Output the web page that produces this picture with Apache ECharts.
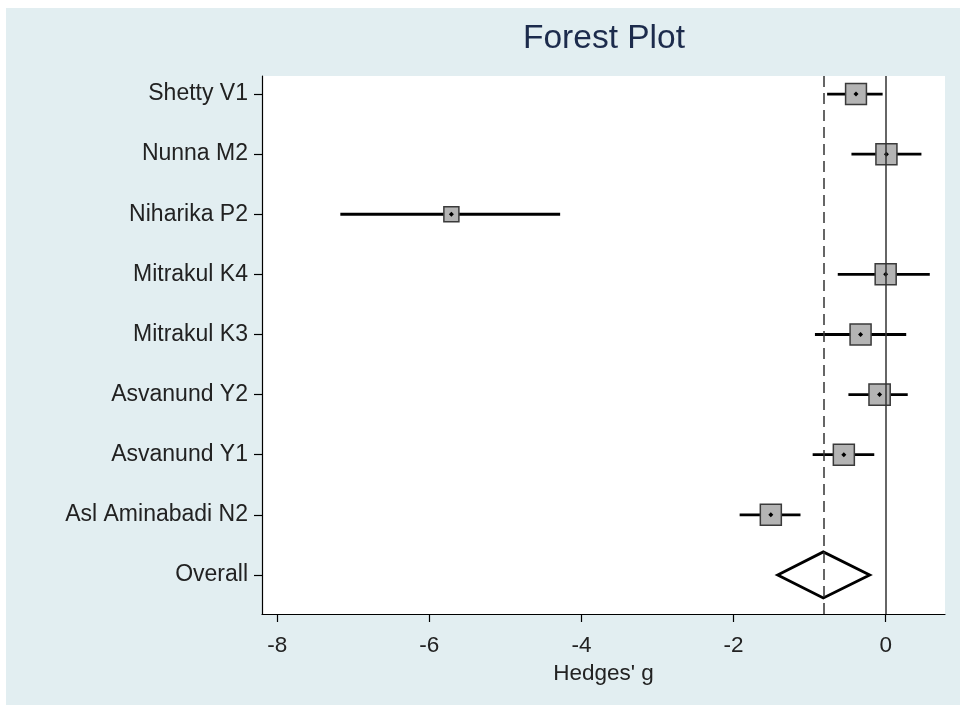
<!DOCTYPE html>
<html><head><meta charset="utf-8">
<script src="https://cdn.jsdelivr.net/npm/echarts@6/dist/echarts.min.js"></script>
<style>html,body{margin:0;padding:0;background:#fff}#c{width:960px;height:705px}</style>
</head><body><div id="c"></div>
<script>
// ---- data ----
const studies = ['Shetty V1','Nunna M2','Niharika P2','Mitrakul K4','Mitrakul K3','Asvanund Y2','Asvanund Y1','Asl Aminabadi N2'];
const effect  = [-0.39, 0.01, -5.71, 0.00, -0.33, -0.08, -0.55, -1.51];
const lower   = [-0.77, -0.45, -7.17, -0.63, -0.93, -0.49, -0.96, -1.92];
const upper   = [-0.04, 0.47, -4.28, 0.58, 0.27, 0.29, -0.15, -1.12];
const weights = [13.1, 13.3, 6.8, 13.3, 13.3, 13.6, 13.3, 13.3];
const overallLabel = 'Overall';
const overallEffect = -0.82;
const overallLower = -1.42;
const overallUpper = -0.21;
const xTicks = [-8, -6, -4, -2, 0];
const rowLabels = studies.concat([overallLabel]);
const nRows = rowLabels.length;
const rowValues = rowLabels.map((_, i) => nRows - i);

const FONT = "'Liberation Sans', Arial, sans-serif";
const boxScale = 5.76;

const studyData = studies.map((s, i) => [effect[i], lower[i], upper[i], nRows - i, weights[i]]);
const overallData = [[overallEffect, overallLower, overallUpper, 1]];

const chart = echarts.init(document.getElementById('c'), null, {renderer: 'canvas'});
chart.setOption({
  backgroundColor: '#e2eef1',
  animation: false,
  title: {
    text: 'Forest Plot', left: 599, top: 17, textAlign: 'center',
    textStyle: {fontFamily: FONT, fontSize: 33.5, fontWeight: 'normal', color: '#1c2b4c'}
  },
  graphic: [
    {type: 'rect', shape: {x: 0, y: 0, width: 960, height: 8}, style: {fill: '#fff'}},
    {type: 'rect', shape: {x: 0, y: 0, width: 6, height: 705}, style: {fill: '#fff'}}
  ],
  grid: {left: 262, right: 15, top: 76, bottom: 91, show: true, backgroundColor: '#fff', borderWidth: 0},
  xAxis: {
    type: 'value', min: -8.2, max: 0.78,
    axisLine: {show: true, onZero: false, lineStyle: {color: '#000', width: 1.2}},
    axisTick: {show: true, customValues: xTicks, length: 8, lineStyle: {color: '#000', width: 1.2}},
    axisLabel: {customValues: xTicks, fontFamily: FONT, fontSize: 22.5, color: '#222', margin: 20},
    splitLine: {show: false},
    name: "Hedges' g", nameLocation: 'middle', nameGap: 42,
    nameTextStyle: {fontFamily: FONT, fontSize: 22.5, color: '#222'}
  },
  yAxis: {
    type: 'value', min: 0.35, max: 9.3,
    axisLine: {show: true, onZero: false, lineStyle: {color: '#000', width: 1.2}},
    axisTick: {show: true, customValues: rowValues, length: 8, lineStyle: {color: '#000', width: 1.2}},
    axisLabel: {customValues: rowValues, fontFamily: FONT, fontSize: 23, color: '#222', margin: 14,
      formatter: v => rowLabels[nRows - Math.round(v)]},
    splitLine: {show: false}
  },
  series: [
    {
      type: 'custom', name: 'ref', data: overallData, z: 1,
      encode: {x: [0, 1, 2], y: 3},
      renderItem: () => ({type: 'group', children: []}),
      markLine: {
        silent: true, symbol: 'none', label: {show: false},
        data: [
          {xAxis: 0, lineStyle: {type: 'solid', color: '#333', width: 1.5}},
          {xAxis: overallEffect, lineStyle: {type: [11, 6], color: '#333', width: 1.5}}
        ]
      }
    },
    {
      type: 'custom', name: 'studies', data: studyData, z: 3,
      encode: {x: [0, 1, 2], y: 3},
      renderItem: (params, api) => {
        const y = api.value(3);
        const c = api.coord([api.value(0), y]);
        const l = api.coord([api.value(1), y]);
        const r = api.coord([api.value(2), y]);
        const s = boxScale * Math.sqrt(api.value(4));
        return {type: 'group', children: [
          {type: 'line', shape: {x1: l[0], y1: c[1], x2: r[0], y2: c[1]}, style: {stroke: '#000', lineWidth: 2.8}},
          {type: 'rect', shape: {x: c[0] - s / 2, y: c[1] - s / 2, width: s, height: s}, style: {fill: '#b4b4b4', stroke: '#3a3a3a', lineWidth: 1.5}},
          {type: 'polygon', shape: {points: [[c[0], c[1] - 2.5], [c[0] + 2.5, c[1]], [c[0], c[1] + 2.5], [c[0] - 2.5, c[1]]]}, style: {fill: '#000'}}
        ]};
      }
    },
    {
      type: 'custom', name: 'overall', data: overallData, z: 3,
      encode: {x: [0, 1, 2], y: 3},
      renderItem: (params, api) => {
        const y = api.value(3);
        const c = api.coord([api.value(0), y]);
        const l = api.coord([api.value(1), y]);
        const r = api.coord([api.value(2), y]);
        const h = 23;
        return {type: 'polygon', shape: {points: [[l[0], c[1]], [c[0], c[1] - h], [r[0], c[1]], [c[0], c[1] + h]]},
          style: {fill: 'none', stroke: '#000', lineWidth: 2.8, lineJoin: 'miter'}};
      }
    }
  ]
});
</script></body></html>
